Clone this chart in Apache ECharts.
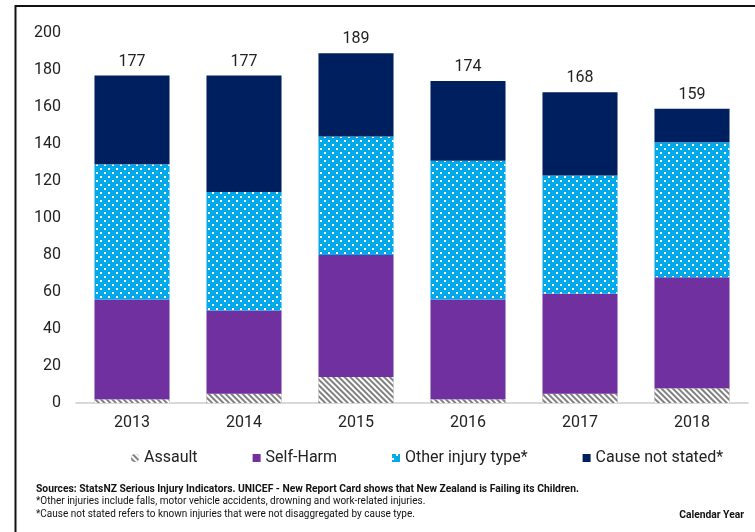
<!DOCTYPE html>
<html>
<head>
<meta charset="utf-8">
<script src="https://cdn.jsdelivr.net/npm/echarts@6/dist/echarts.min.js"></script>
<style>
  html, body { margin: 0; padding: 0; background: #fff; }
  #chart { width: 755px; height: 532px; }
</style>
</head>
<body>
<div id="chart"></div>
<script>
// Serious injuries by cause, per calendar year
const years = ['2013', '2014', '2015', '2016', '2017', '2018'];
const assault = [2, 5, 14, 2, 5, 8];
const selfHarm = [54, 45, 66, 54, 54, 60];
const otherInjury = [73, 64, 64, 75, 64, 73];
const causeNotStated = [48, 63, 45, 43, 45, 18];
const yTicks = [0, 20, 40, 60, 80, 100, 120, 140, 160, 180, 200];

const seriesNames = ['Assault', 'Self-Harm', 'Other injury type*', 'Cause not stated*'];
const footSource = 'Sources: StatsNZ Serious Injury Indicators. UNICEF - New Report Card shows that New Zealand is Failing its Children.';
const footOther = '*Other injuries include falls, motor vehicle accidents, drowning and work-related injuries.';
const footCause = '*Cause not stated refers to known injuries that were not disaggregated by cause type.';
const footAxis = 'Calendar Year';

const totals = years.map((_, i) => assault[i] + selfHarm[i] + otherInjury[i] + causeNotStated[i]);

const FONT = 'Roboto, "Noto Sans", sans-serif';

const chart = echarts.init(document.getElementById('chart'), null, { renderer: 'canvas' });

chart.setOption({
  animation: false,
  backgroundColor: '#fff',
  grid: { left: 76, right: 7, top: 33, bottom: 129, containLabel: false },
  legend: {
    left: 126,
    top: 445,
    itemWidth: 8,
    itemHeight: 8,
    itemGap: 55,
    textStyle: { fontFamily: FONT, fontSize: 16, color: '#222' },
    data: [
      { name: seriesNames[0], icon: 'circle' },
      { name: seriesNames[1], icon: 'rect' },
      { name: seriesNames[2], icon: 'rect' },
      { name: seriesNames[3], icon: 'rect' }
    ]
  },
  xAxis: {
    type: 'category',
    data: years,
    axisLine: { show: true, lineStyle: { color: '#d9d9d9', width: 2 } },
    axisTick: { show: false },
    axisLabel: { fontFamily: FONT, fontSize: 16, color: '#222', margin: 12 }
  },
  yAxis: {
    type: 'value',
    min: yTicks[0],
    max: yTicks[yTicks.length - 1],
    interval: yTicks[1] - yTicks[0],
    axisLine: { show: false },
    axisTick: { show: false },
    splitLine: { show: false },
    axisLabel: { fontFamily: FONT, fontSize: 16, color: '#222', margin: 15 }
  },
  series: [
    {
      name: seriesNames[0],
      type: 'bar',
      stack: 'total',
      barCategoryGap: '33%',
      data: assault,
      itemStyle: {
        color: '#808080',
        decal: {
          symbol: 'rect',
          symbolSize: 1,
          color: '#ffffff',
          dashArrayX: [1, 0],
          dashArrayY: [1.7, 1.7],
          rotation: Math.PI / 4
        }
      }
    },
    {
      name: seriesNames[1],
      type: 'bar',
      stack: 'total',
      data: selfHarm,
      itemStyle: { color: '#7030A0' }
    },
    {
      name: seriesNames[2],
      type: 'bar',
      stack: 'total',
      data: otherInjury,
      itemStyle: {
        color: '#00AAEA',
        decal: {
          symbol: 'rect',
          symbolSize: 1,
          color: '#ffffff',
          dashArrayX: [[2, 6], [0, 4, 2, 2]],
          dashArrayY: [2, 2],
          rotation: 0
        }
      }
    },
    {
      name: seriesNames[3],
      type: 'bar',
      stack: 'total',
      data: causeNotStated,
      itemStyle: { color: '#001F5E' },
      label: {
        show: true,
        position: 'top',
        distance: 6,
        fontFamily: FONT,
        fontSize: 16,
        color: '#222',
        formatter: (p) => String(totals[p.dataIndex])
      }
    }
  ],
  graphic: [
    {
      type: 'rect',
      silent: true,
      shape: { x: 15.5, y: 6, width: 800, height: 600 },
      style: { fill: 'none', stroke: '#111', lineWidth: 2 }
    },
    {
      type: 'text',
      left: 36, top: 484,
      style: { text: footSource, font: 'bold 10.3px ' + FONT, fill: '#111' }
    },
    {
      type: 'text',
      left: 36, top: 496,
      style: { text: footOther, font: '10px ' + FONT, fill: '#111' }
    },
    {
      type: 'text',
      left: 36, top: 509,
      style: { text: footCause, font: '10px ' + FONT, fill: '#111' }
    },
    {
      type: 'text',
      right: 11, top: 510,
      style: { text: footAxis, font: 'bold 10.3px ' + FONT, fill: '#111' }
    }
  ]
});
</script>
</body>
</html>
